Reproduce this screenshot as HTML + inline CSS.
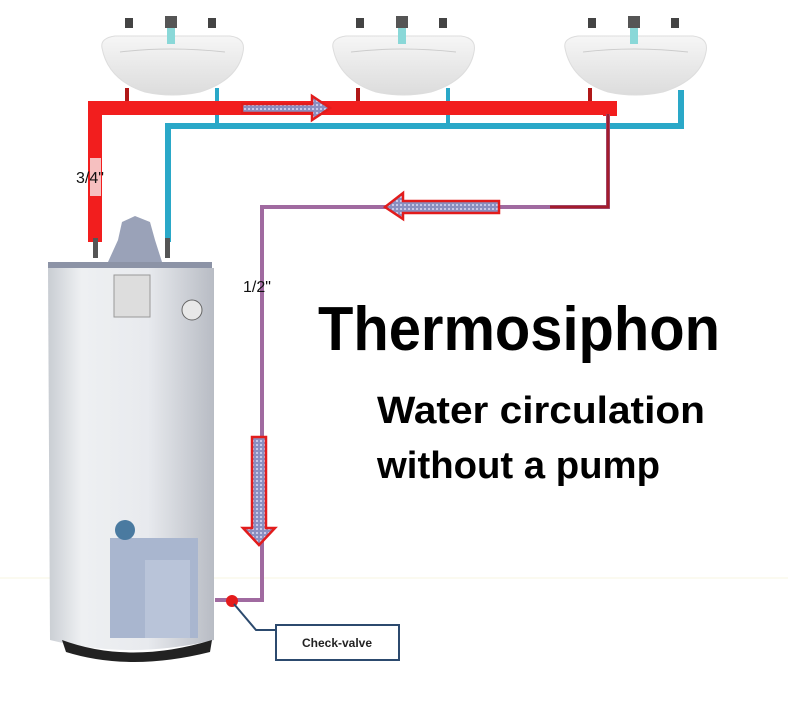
<!DOCTYPE html>
<html><head><meta charset="utf-8"><style>
html,body{margin:0;padding:0;background:#fff;}
svg{display:block;}
</style></head><body>
<svg width="788" height="706" viewBox="0 0 788 706" xmlns="http://www.w3.org/2000/svg">
<defs>
<linearGradient id="tank" x1="0" x2="1">
<stop offset="0" stop-color="#c9cdd3"/><stop offset="0.2" stop-color="#eef0f2"/><stop offset="0.6" stop-color="#e8eaee"/><stop offset="1" stop-color="#b8bcc4"/>
</linearGradient>
<linearGradient id="sink" x1="0" x2="0" y1="0" y2="1">
<stop offset="0" stop-color="#f6f6f6"/><stop offset="1" stop-color="#dcdcdc"/>
</linearGradient>
<pattern id="hatch" width="4" height="4" patternUnits="userSpaceOnUse">
<rect width="4" height="4" fill="#8a8fc0"/><rect width="2" height="2" fill="#c8c8e8"/>
</pattern>
</defs>
<line x1="0" y1="578" x2="788" y2="578" stroke="#f7f4e0" stroke-width="1"/>

<!-- sinks -->
<g id="s1">
<path d="M102 48 Q100 38 115 36 L230 36 Q246 38 243 52 Q238 80 200 92 Q172 98 145 92 Q108 80 102 48Z" fill="url(#sink)" stroke="#ddd"/>
<path d="M120 52 Q170 46 225 52" stroke="#ccc" fill="none"/>
<rect x="125" y="18" width="8" height="10" fill="#444"/><rect x="165" y="16" width="12" height="12" fill="#555"/><rect x="208" y="18" width="8" height="10" fill="#444"/>
<rect x="167" y="28" width="8" height="16" fill="#8ad8d8"/>
</g>
<use href="#s1" x="231"/>
<use href="#s1" x="463"/>

<!-- drops -->
<g stroke="#b01818" stroke-width="4"><line x1="127" y1="88" x2="127" y2="102"/><line x1="358" y1="88" x2="358" y2="102"/><line x1="590" y1="88" x2="590" y2="102"/></g>
<g stroke="#2aa8c8" stroke-width="4"><line x1="217" y1="88" x2="217" y2="124"/><line x1="448" y1="88" x2="448" y2="124"/></g>

<!-- blue pipe -->
<path d="M168 242 L168 126 L681 126 L681 90" stroke="#2aa8c8" stroke-width="6" fill="none"/>
<!-- red pipe -->
<path d="M95 242 L95 108 L610 108 L610 116" stroke="#f21e1e" stroke-width="14" fill="none"/>
<rect x="90" y="158" width="11" height="38" fill="#f6c0c0"/>
<!-- return pipe -->
<path d="M608 114 L608 207 L262 207 L262 600 L215 600" stroke="#a06aa0" stroke-width="4" fill="none"/>
<path d="M608 114 L608 207 L550 207" stroke="#a31c2c" stroke-width="3" fill="none"/>

<!-- arrows -->
<path d="M242 104 L312 104 L312 96 L330 108 L312 120 L312 113 L242 113Z" fill="url(#hatch)" stroke="#e21c1c" stroke-width="2.5"/>
<path d="M499 201 L403 201 L403 193 L385 207 L403 219 L403 213 L499 213Z" fill="url(#hatch)" stroke="#e21c1c" stroke-width="2.5"/>
<path d="M252 437 L266 437 L266 528 L275 528 L259 545 L243 528 L252 528Z" fill="url(#hatch)" stroke="#e21c1c" stroke-width="2.5"/>

<!-- heater -->
<rect x="93" y="238" width="5" height="20" fill="#555"/><rect x="165" y="238" width="5" height="20" fill="#555"/>
<path d="M108 262 L118 240 L122 222 L135 216 L150 222 L155 240 L162 262Z" fill="#9aa2b8"/>
<path d="M48 262 L212 262 L212 270 L48 270Z" fill="#8c93a6"/>
<path d="M48 268 L214 268 L214 640 Q130 660 50 640Z" fill="url(#tank)"/>
<rect x="114" y="275" width="36" height="42" fill="#ddd" stroke="#999"/>
<circle cx="192" cy="310" r="10" fill="#e8e8e8" stroke="#666"/>
<rect x="110" y="538" width="88" height="100" fill="#a9b6cf"/>
<rect x="145" y="560" width="45" height="78" fill="#b9c4d9"/>
<circle cx="125" cy="530" r="10" fill="#4a7aa0"/>
<path d="M62 640 Q130 665 212 640 L210 652 Q130 672 66 652Z" fill="#222"/>

<!-- check valve -->
<circle cx="232" cy="601" r="6" fill="#e41c1c"/>
<path d="M234 604 L256 630 L275 630" stroke="#2c4a6e" stroke-width="2" fill="none"/>
<rect x="276" y="625" width="123" height="35" fill="#fff" stroke="#2c4a6e" stroke-width="2"/>
<text x="337" y="647" font-family="Liberation Sans, sans-serif" font-size="12" font-weight="bold" text-anchor="middle" fill="#222">Check-valve</text>

<!-- labels -->
<text x="76" y="183" font-family="Liberation Sans, sans-serif" font-size="16" fill="#111">3/4"</text>
<text x="243" y="292" font-family="Liberation Sans, sans-serif" font-size="16" fill="#111">1/2"</text>
<text x="318" y="350" font-family="Liberation Sans, sans-serif" font-size="62" font-weight="bold" textLength="402" lengthAdjust="spacingAndGlyphs" fill="#000">Thermosiphon</text>
<text x="377" y="423" font-family="Liberation Sans, sans-serif" font-size="38" font-weight="bold" textLength="328" lengthAdjust="spacingAndGlyphs" fill="#000">Water circulation</text>
<text x="377" y="478" font-family="Liberation Sans, sans-serif" font-size="38" font-weight="bold" textLength="283" lengthAdjust="spacingAndGlyphs" fill="#000">without a pump</text>
</svg>
</body></html>
